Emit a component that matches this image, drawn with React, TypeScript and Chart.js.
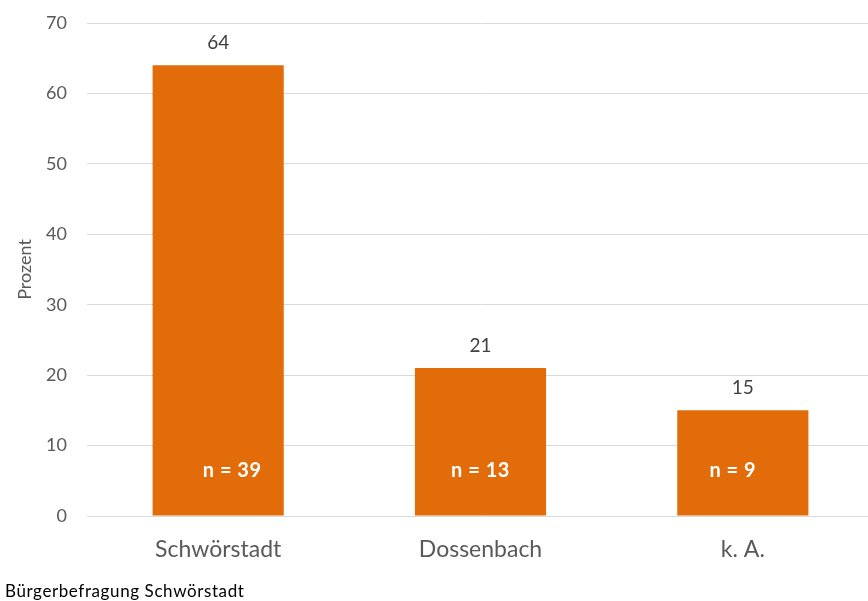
import React, { useEffect, useRef } from "react";
import { Chart, registerables } from "chart.js";

Chart.register(...registerables);

const categories = ["Schwörstadt", "Dossenbach", "k. A."];
const percentValues = [64, 21, 15];
const nLabels = ["n = 39", "n = 13", "n = 9"];
const nLabelShift = [14, 0, -10];
const yTicks = [0, 10, 20, 30, 40, 50, 60, 70];
const footerText = "Bürgerbefragung Schwörstadt";

const FONT = "Lato, 'Open Sans', 'Noto Sans', sans-serif";

const labelPlugin = {
  id: "labels",
  afterDatasetsDraw(chart: any) {
    const ctx = chart.ctx;
    const meta = chart.getDatasetMeta(0);
    ctx.save();
    meta.data.forEach((bar: any, i: number) => {
      ctx.fillStyle = "#404040";
      ctx.font = `19px ${FONT}`;
      ctx.letterSpacing = "0px";
      ctx.textAlign = "center";
      ctx.textBaseline = "middle";
      ctx.fillText(String(percentValues[i]), bar.x, bar.y - 22);
      ctx.fillStyle = "#ffffff";
      ctx.font = `bold 20px ${FONT}`;
      ctx.letterSpacing = "0.5px";
      ctx.fillText(nLabels[i], bar.x + nLabelShift[i], chart.scales.y.getPixelForValue(0) - 45);
    });
    ctx.fillStyle = "#000000";
    ctx.font = `17px ${FONT}`;
    ctx.letterSpacing = "0.6px";
    ctx.textAlign = "left";
    ctx.textBaseline = "middle";
    ctx.fillText(footerText, 5, 592);
    ctx.restore();
  },
};

export default function App() {
  const ref = useRef<HTMLCanvasElement | null>(null);
  useEffect(() => {
    if (!ref.current) return;
    const chart = new Chart(ref.current, {
      type: "bar",
      data: {
        labels: categories,
        datasets: [
          {
            data: percentValues,
            backgroundColor: "#E36C0A",
            borderWidth: 0,
            barPercentage: 0.5,
            categoryPercentage: 1,
          },
        ],
      },
      options: {
        animation: false,
        responsive: false,
        layout: { padding: { top: 23, right: 0, left: 0, bottom: 0 } },
        plugins: { legend: { display: false }, tooltip: { enabled: false } },
        scales: {
          x: {
            grid: { display: false },
            border: { display: false },
            ticks: { color: "#595959", font: { family: FONT, size: 23 }, padding: 12 },
            afterFit: (s: any) => {
              s.height = 85;
              s.paddingLeft = 0;
              s.paddingRight = 0;
            },
          },
          y: {
            min: 0,
            max: 70,
            afterBuildTicks: (s: any) => {
              s.ticks = yTicks.map((v) => ({ value: v }));
            },
            grid: { color: "#d9d9d9", lineWidth: 1, drawTicks: false },
            border: { display: false },
            ticks: { color: "#595959", font: { family: FONT, size: 18 }, padding: 20 },
            title: {
              display: true,
              text: "Prozent",
              color: "#595959",
              font: { family: FONT, size: 18 },
              padding: { top: 14, bottom: 0 },
            },
            afterFit: (s: any) => {
              s.width = 87;
              s.paddingTop = 0;
              s.paddingBottom = 0;
            },
          },
        },
      },
      plugins: [labelPlugin],
    });
    return () => chart.destroy();
  }, []);
  return (
    <div style={{ position: "fixed", left: 0, top: 0, width: 868, height: 601, overflow: "hidden", background: "#fff" }}>
      <canvas ref={ref} width={874} height={601} style={{ width: 874, height: 601, display: "block" }} />
    </div>
  );
}
